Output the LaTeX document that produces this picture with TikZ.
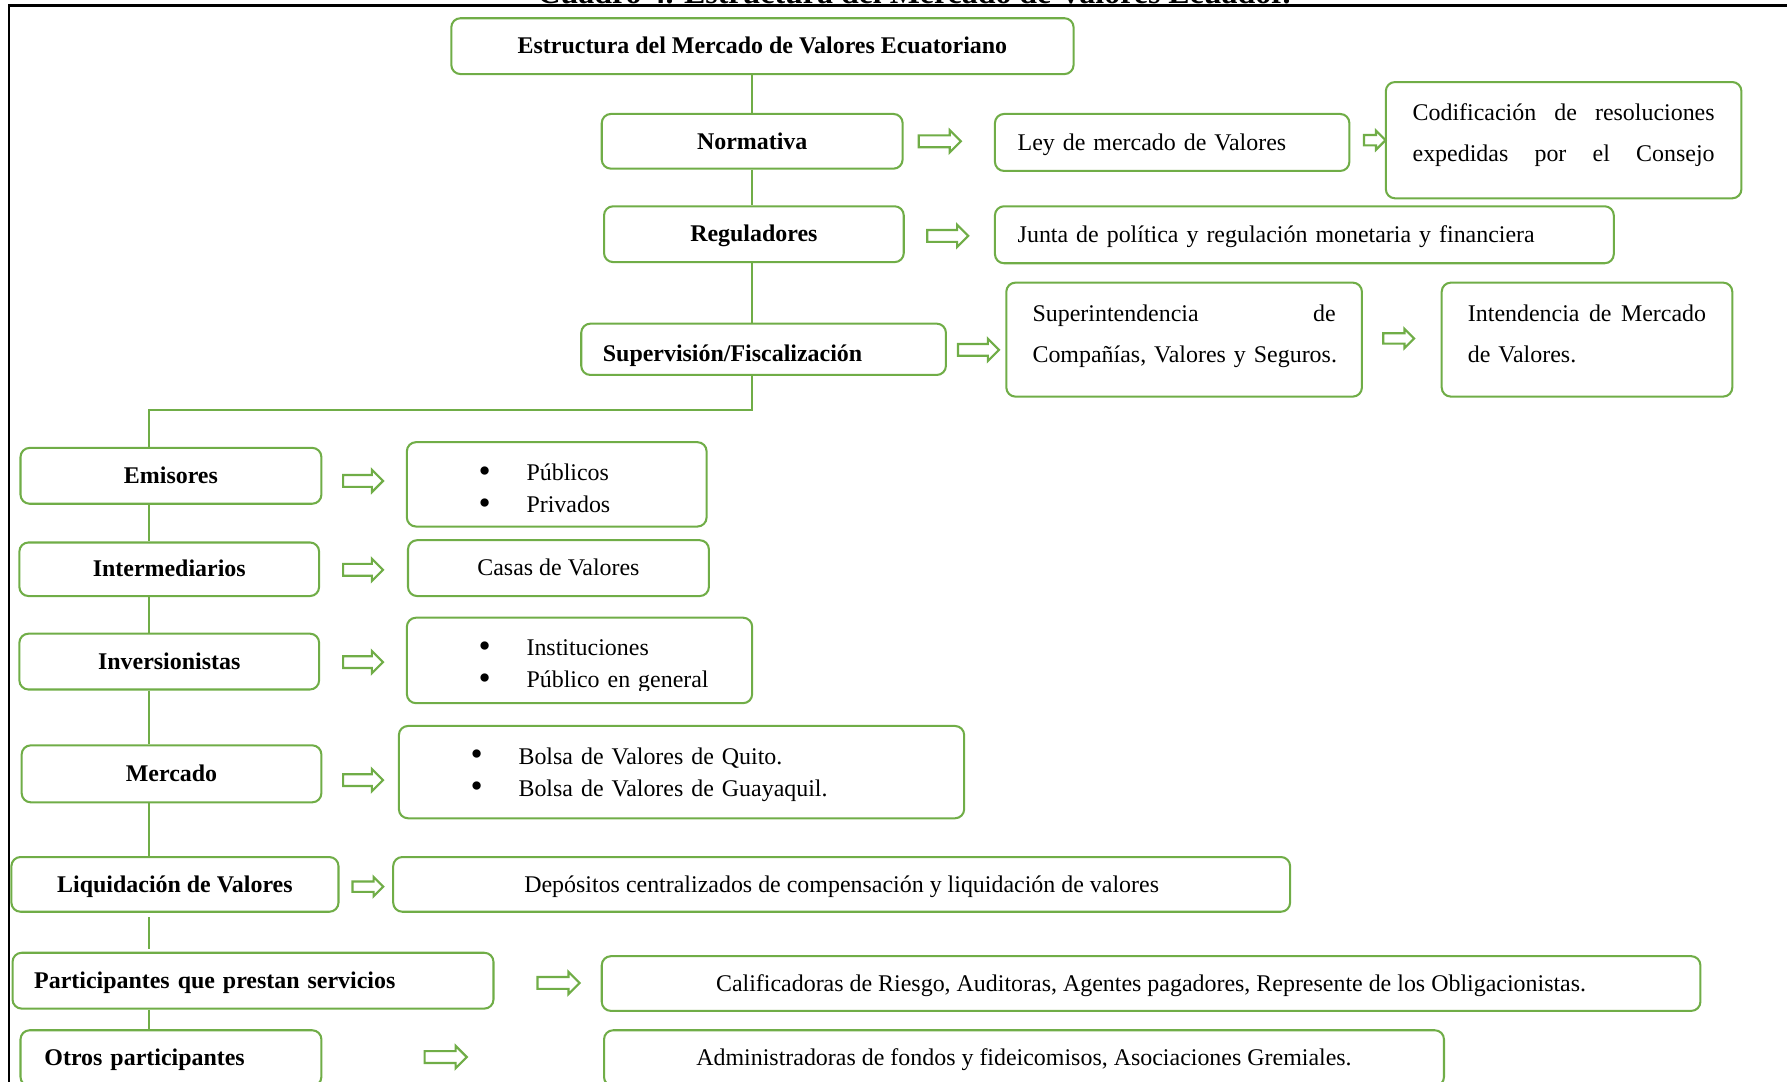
\documentclass[tikz,border=0pt]{standalone}
\usepackage{fontspec}
\setmainfont{Liberation Serif}
\usetikzlibrary{shapes.arrows,calc}
\definecolor{boxgreen}{HTML}{70AD47}
% one bulleted line inside a list box
\newcommand{\bitem}[1]{\hspace*{43pt}\makebox[42pt][l]{\raisebox{-1.6pt}{\scalebox{1.45}{\textbullet}}}#1}

\begin{document}
\begin{tikzpicture}[x=1pt,y=-1pt,
  box/.style={draw=boxgreen, line width=1.8pt, rounded corners=8pt, fill=white,
    inner sep=0pt, font=\fontsize{21}{28}\selectfont, text height=15pt, text depth=1.5pt},
  headbox/.style={box, font=\fontsize{21}{28}\selectfont\bfseries},
  leftbox/.style={align=left, inner xsep=#1},
  link/.style={draw=boxgreen, line width=1.8pt},
  fatarrow/.style={single arrow, draw=boxgreen, fill=white, line width=1.9pt,
    inner xsep=0pt, inner ysep=4.25pt, minimum width=17.5pt,
    single arrow head extend=4.6pt, single arrow tip angle=90, minimum height=36pt},
  smallarrow/.style={fatarrow, inner ysep=3.6pt, minimum width=15pt,
    single arrow head extend=3.9pt}
]
\useasboundingbox (0,0) rectangle (1568,949);

% caption and outer frame
\node[font=\fontsize{28}{30}\selectfont\bfseries, anchor=base, inner sep=0pt] (title) at (802,3.5)
  {Cuadro 4. Estructura del Mercado de Valores Ecuador.};
\draw[line width=2.6pt] (1580,5.1) -- (7.9,5.1) -- (7.9,960);

% upper column
\node[headbox, minimum width=546pt, minimum height=49pt] (top) at (669,40.5)
  {Estructura del Mercado de Valores Ecuatoriano};
\node[headbox, minimum width=264pt, minimum height=48pt] (nor) at (660,124) {Normativa};
\node[headbox, minimum width=263pt, minimum height=49pt] (reg) at (661.5,205.5) {Reguladores};
\node[headbox, leftbox=19pt, text width=282pt, minimum width=320pt, minimum height=45pt,
  text height=21pt, text depth=0pt] (sup) at (670,306.5) {Supervisión/Fiscalización};

\node[box, leftbox=20pt, text width=271pt, minimum width=311pt, minimum height=50pt] (ley)
  at (1028.5,125) {Ley de mercado de Valores};
\node[box, leftbox=23.5pt, text width=265pt, minimum width=312pt, minimum height=102pt,
  font=\fontsize{21}{36}\selectfont, text height=15pt, text depth=49pt] (cod) at (1372,123)
  {\makebox[265pt][s]{Codificación\hfill de\hfill resoluciones}\\
   \makebox[265pt][s]{expedidas\hfill por\hfill el\hfill Consejo}};
\node[box, leftbox=20pt, text width=503pt, minimum width=543pt, minimum height=50pt] (jun)
  at (1144.5,206) {Junta de política y regulación monetaria y financiera};
\node[box, leftbox=23pt, text width=266pt, minimum width=312pt, minimum height=100pt,
  font=\fontsize{21}{36}\selectfont, text height=15pt, text depth=47pt] (sci) at (1039,298)
  {\makebox[266pt][s]{Superintendencia\hfill de}\\\mbox{Compañías, Valores y Seguros.}};
\node[box, leftbox=23pt, text width=209pt, minimum width=255pt, minimum height=100pt,
  font=\fontsize{21}{36}\selectfont, text height=15pt, text depth=47pt] (imv) at (1392.5,298)
  {\makebox[209pt][s]{Intendencia\hfill de\hfill Mercado}\\de Valores.};

% lower column
\node[headbox, minimum width=264pt, minimum height=49pt] (emi) at (150,417.5) {Emisores};
\node[headbox, minimum width=263pt, minimum height=47pt] (int) at (148.5,499.5) {Intermediarios};
\node[headbox, minimum width=263pt, minimum height=49pt] (inv) at (148.5,580.5) {Inversionistas};
\node[headbox, minimum width=263pt, minimum height=50pt] (mer) at (150.5,679) {Mercado};
\node[headbox, minimum width=287pt, minimum height=48pt] (liq) at (153.5,776) {Liquidación de Valores};
\node[headbox, leftbox=19pt, text width=384pt, minimum width=422pt, minimum height=49pt] (par)
  at (222,860.5) {Participantes que prestan servicios};
\node[headbox, leftbox=21pt, text width=222pt, minimum width=264pt, minimum height=49pt] (otr)
  at (150,928.5) {Otros participantes};

\node[box, leftbox=20pt, text width=223pt, minimum width=263pt, minimum height=74pt,
  text height=26pt, text depth=32.6pt] (pub) at (488.5,425) {\bitem{Públicos}\\\bitem{Privados}};
\node[box, minimum width=264pt, minimum height=49pt] (cas) at (490,498.5) {Casas de Valores};
\node[box, leftbox=20pt, text width=263pt, minimum width=303pt, minimum height=75pt,
  text height=24pt, text depth=32.6pt] (ins) at (508.5,579.5)
  {\bitem{Instituciones}\\\bitem{Público en general}};
% the last line is cut off by the lower margin of its box
\fill[white] ($(ins.south west)+(20,-12)$) rectangle ($(ins.south east)+(-20,-1.5)$);
\node[box, leftbox=20pt, text width=456pt, minimum width=496pt, minimum height=81pt,
  text height=15pt, text depth=29pt] (bol) at (598,677.5)
  {\bitem{Bolsa de Valores de Quito.}\\\bitem{Bolsa de Valores de Guayaquil.}};
\node[box, minimum width=787pt, minimum height=48pt] (dep) at (738.5,776)
  {Depósitos centralizados de compensación y liquidación de valores};
\node[box, minimum width=964pt, minimum height=48pt] (cal) at (1010,863)
  {Calificadoras de Riesgo, Auditoras, Agentes pagadores, Represente de los Obligacionistas.};
\node[box, minimum width=737pt, minimum height=49pt] (adm) at (898.5,928.5)
  {Administradoras de fondos y fideicomisos, Asociaciones Gremiales.};

% block arrows
\node[fatarrow, minimum height=37pt] (a1) at (822,124) {};
\node[smallarrow, minimum height=19pt] (a2) at (1204,123) {};
\node[fatarrow] (a3) at (829,207) {};
\node[fatarrow] (a4) at (856,307) {};
\node[smallarrow, minimum height=27pt] (a5) at (1225,297) {};
\node[fatarrow, minimum height=35pt] (a6) at (316,422) {};
\node[fatarrow, minimum height=35pt] (a7) at (316,500) {};
\node[fatarrow, minimum height=35pt] (a8) at (316,581) {};
\node[fatarrow, minimum height=35pt] (a9) at (316,684.5) {};
\node[smallarrow, minimum height=27pt] (a10) at (320.5,778) {};
\node[fatarrow, minimum height=37pt] (a11) at (487.5,862.5) {};
\node[fatarrow, minimum height=37pt] (a12) at (388.5,927.5) {};

% connecting lines
\coordinate (sx) at (660,0);
\coordinate (lx) at (131,0);
\draw[link] (top.south -| sx) -- (nor.north -| sx);
\draw[link] (nor.south -| sx) -- (reg.north -| sx);
\draw[link] (reg.south -| sx) -- (sup.north -| sx);
\draw[link] (sup.south -| sx) -- ++(0,30) -| (emi.north -| lx);
\draw[link] (emi.south -| lx) -- (int.north -| lx);
\draw[link] (int.south -| lx) -- (inv.north -| lx);
\draw[link] (inv.south -| lx) -- (mer.north -| lx);
\draw[link] (mer.south -| lx) -- (liq.north -| lx);
\draw[link] ($(liq.south -| lx)+(0,4)$) -- ($(par.north -| lx)+(0,-2)$);
\draw[link] (par.south -| lx) -- (otr.north -| lx);
\end{tikzpicture}
\end{document}
